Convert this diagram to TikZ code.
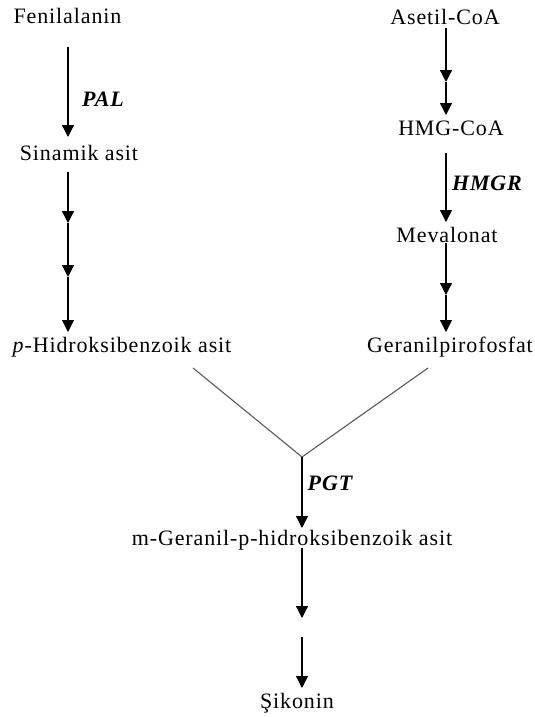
\documentclass[tikz,border=0pt]{standalone}
\usepackage{fontspec}
\setmainfont{Liberation Serif}[LetterSpace=4]
\usetikzlibrary{arrows.meta}

\begin{document}
\begin{tikzpicture}[x=1pt, y=-1pt,
    stepnode/.style={inner sep=0pt, anchor=base, font=\fontsize{22}{26}\selectfont},
    enzymnode/.style={stepnode, font=\fontsize{22}{26}\selectfont\bfseries\itshape},
    arr/.style={-{Triangle[width=12pt,length=12pt]}, line width=1.3pt},
    link/.style={draw=black!65, line width=1.1pt},
]
\useasboundingbox (0,0) rectangle (535,717);

% compounds
\node[stepnode](fenil) at (67.5,24){Fenilalanin};
\node[stepnode](sinamik) at (79,160){Sinamik asit};
\node[stepnode](phb) at (122,352){\textit{p}-Hidroksibenzoik asit};
\node[stepnode](asetil) at (445,25){Asetil-CoA};
\node[stepnode](hmgcoa) at (451,135){HMG-CoA};
\node[stepnode](meval) at (447,242){Mevalonat};
\node[stepnode](gpp) at (450,352){Geranilpirofosfat};
\node[stepnode](mgphb) at (292,545){m-Geranil-p-hidroksibenzoik asit};
\node[stepnode](sikonin) at (297,708){Şikonin};

% enzymes
\node[enzymnode](pal) at (103,106){PAL};
\node[enzymnode](hmgr) at (487,190){HMGR};
\node[enzymnode](pgt) at (330,490){PGT};

% arrow points
\coordinate (a1) at (68,47);
\coordinate (a2) at (68,137);
\coordinate (a3) at (68,172);
\coordinate (a4) at (68,223);
\coordinate (a5) at (68,277);
\coordinate (a6) at (68,332);
\coordinate (b1) at (446,28);
\coordinate (b2) at (446,82);
\coordinate (b3) at (446,115);
\coordinate (b4) at (446,153);
\coordinate (b5) at (446,222);
\coordinate (b6) at (446,243);
\coordinate (b7) at (446,295);
\coordinate (b8) at (446,332);
\coordinate (v1) at (193,368);
\coordinate (v2) at (428,368);
\coordinate (vx) at (302,457);
\coordinate (c1) at (302,528);
\coordinate (c2) at (302,548);
\coordinate (c3) at (302,618);
\coordinate (c4) at (302,637);
\coordinate (c5) at (302,688);

% left branch
\draw[arr] (a1) -- (a2);
\draw[arr] (a3) -- (a4);
\draw[arr] (a4) -- (a5);
\draw[arr] (a5) -- (a6);
% right branch
\draw[arr] (b1) -- (b2);
\draw[arr] (b2) -- (b3);
\draw[arr] (b4) -- (b5);
\draw[arr] (b6) -- (b7);
\draw[arr] (b7) -- (b8);
% join
\draw[link] (v1) -- (vx) -- (v2);
\draw[arr] (vx) -- (c1);
\draw[arr] (c2) -- (c3);
\draw[arr] (c4) -- (c5);
\end{tikzpicture}
\end{document}
